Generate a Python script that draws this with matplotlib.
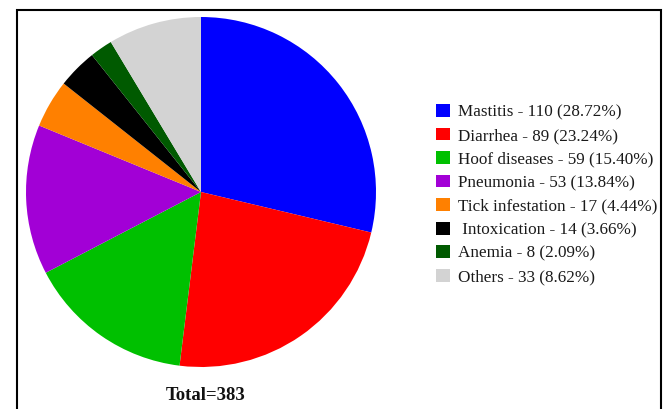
import matplotlib
matplotlib.use('Agg')
import matplotlib.pyplot as plt
from matplotlib.patches import Rectangle

# disease counts (total 383)
labels=['Mastitis','Diarrhea','Hoof diseases','Pneumonia','Tick infestation',' Intoxication','Anemia','Others']
counts=[110,89,59,53,17,14,8,33]
pcts=['28.72','23.24','15.40','13.84','4.44','3.66','2.09','8.62']
colors=['#0000FF','#FF0000','#00C000','#A200D6','#FF8000','#000000','#005A00','#D3D3D3']

plt.rcParams['font.family']=['Liberation Serif','DejaVu Serif']
W,H=665,409
fig=plt.figure(figsize=(W/100,H/100),dpi=100)

# pie centre ~ (201,192) px, radius ~175 px
cx,cy,r=201,192,175
ax=fig.add_axes([(cx-r)/W,(H-cy-r)/H,2*r/W,2*r/H])
wedges,_=ax.pie(counts,colors=colors,startangle=90,counterclock=False,radius=1,
                wedgeprops=dict(linewidth=0))
ax.set_xlim(-1,1); ax.set_ylim(-1,1); ax.set_aspect('equal'); ax.axis('off')

leg=[f'{l} - {c} ({p}%)' for l,c,p in zip(labels,counts,pcts)]
fig.legend(wedges,leg,loc='upper left',bbox_to_anchor=(436/W,1-104/H),frameon=False,
           fontsize=12.3,handlelength=0.82,handleheight=0.78,handletextpad=0.45,
           labelspacing=0.42,borderpad=0,borderaxespad=0,labelcolor='#1a1a1a')

fig.text(206/W,1-395/H,'Total=383',ha='center',va='center',fontsize=13.5,fontweight='bold',color='#111111')

# outer frame (bottom edge is cut off in the source)
fig.patches.append(Rectangle((17/W,-0.02),(661-17)/W,1.02-10/H,transform=fig.transFigure,
                             fill=False,edgecolor='black',linewidth=1.5))
fig.savefig('out.png',dpi=100)
